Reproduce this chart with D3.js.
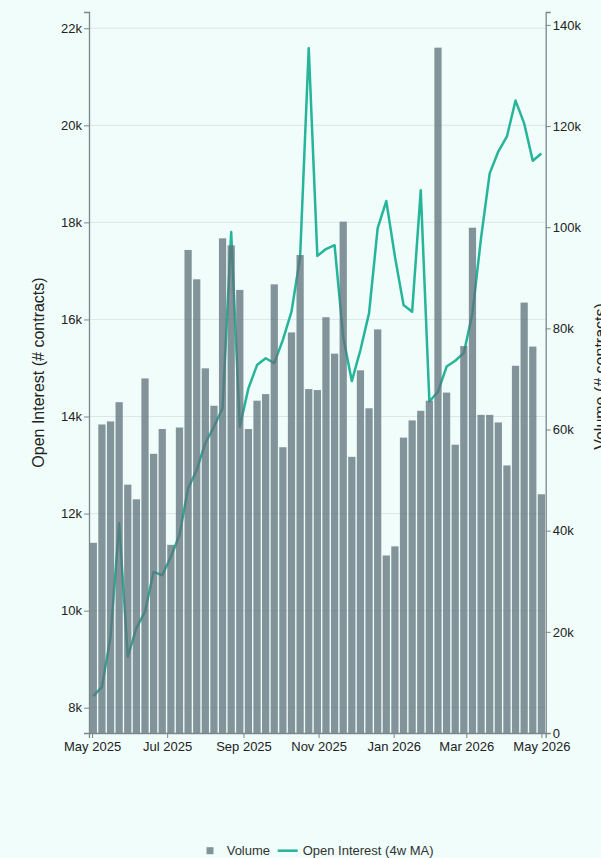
<!DOCTYPE html>
<html>
<head>
<meta charset="utf-8">
<script src="https://cdn.jsdelivr.net/npm/d3@7"></script>
<style>
  html, body { margin: 0; padding: 0; background: #f0fdfa; }
  svg { display: block; }
  text { font-family: Helvetica, "Liberation Sans", Arial, sans-serif; }
</style>
</head>
<body>
<svg id="chart"></svg>
<script>
// weekly observations (Fridays)
var weeks = [
  "2025-05-02","2025-05-09","2025-05-16","2025-05-23","2025-05-30",
  "2025-06-06","2025-06-13","2025-06-20","2025-06-27",
  "2025-07-04","2025-07-11","2025-07-18","2025-07-25",
  "2025-08-01","2025-08-08","2025-08-15","2025-08-22","2025-08-29",
  "2025-09-05","2025-09-12","2025-09-19","2025-09-26",
  "2025-10-03","2025-10-10","2025-10-17","2025-10-24","2025-10-31",
  "2025-11-07","2025-11-14","2025-11-21","2025-11-28",
  "2025-12-05","2025-12-12","2025-12-19","2025-12-26",
  "2026-01-02","2026-01-09","2026-01-16","2026-01-23","2026-01-30",
  "2026-02-06","2026-02-13","2026-02-20","2026-02-27",
  "2026-03-06","2026-03-13","2026-03-20","2026-03-27",
  "2026-04-03","2026-04-10","2026-04-17","2026-04-24",
  "2026-05-01"
];

var volume = [
  37600, 61000, 61600, 65400, 49100, 46200, 70100, 55200, 60100, 37200,
  60400, 95500, 89700, 72100, 64700, 97800, 96400, 87600, 60100, 65700,
  67000, 88700, 56500, 79200, 94500, 68000, 67800, 82200, 75000, 101100,
  54600, 71700, 64200, 79800, 35100, 36900, 58400, 61800, 63700, 65700,
  135500, 67300, 57000, 76500, 99900, 62900, 62900, 61400, 52900, 72600,
  85100, 76400, 47200
];

var openInterest = [
  8240, 8430, 9460, 11800, 9050, 9640, 9980, 10800, 10730, 11110,
  11560, 12520, 12900, 13450, 13790, 14170, 17800, 13790, 14580, 15060,
  15200, 15100, 15580, 16160, 17290, 21590, 17310, 17450, 17530, 15640,
  14730, 15370, 16130, 17880, 18440, 17300, 16300, 16160, 18660, 14310,
  14510, 15030, 15150, 15310, 16130, 17680, 19010, 19460, 19770, 20510,
  20040, 19270, 19420
];

var oiTicks = [8000, 10000, 12000, 14000, 16000, 18000, 20000, 22000];
var volTicks = [0, 20000, 40000, 60000, 80000, 100000, 120000, 140000];
var dateTicks = ["2025-05-01","2025-07-01","2025-09-01","2025-11-01","2026-01-01","2026-03-01","2026-05-01"];

var W = 601, H = 858;
var margin = {top: 12, right: 55.3, bottom: 125, left: 89};
var innerW = W - margin.left - margin.right,
    innerH = H - margin.top - margin.bottom;

var parse = d3.timeParse("%Y-%m-%d");
var data = weeks.map(function(w, i) {
  return {date: parse(w), vol: volume[i], oi: openInterest[i]};
});

var halfWeek = 3.5 * 24 * 3600 * 1000;
var x = d3.scaleTime()
    .domain([new Date(+data[0].date - halfWeek), new Date(+data[data.length - 1].date + halfWeek)])
    .range([0, innerW]);

var yOI = d3.scaleLinear().domain([7479, 22335]).range([innerH, 0]);
var yVol = d3.scaleLinear().domain([0, 142550]).range([innerH, 0]);

var svg = d3.select("#chart").attr("width", W).attr("height", H);
svg.append("rect").attr("width", W).attr("height", H).attr("fill", "#f0fdfa");

var g = svg.append("g").attr("transform", "translate(" + margin.left + "," + margin.top + ")");

// grid from left axis
g.append("g")
  .selectAll("line")
  .data(oiTicks)
  .enter().append("line")
  .attr("x1", 0).attr("x2", innerW)
  .attr("y1", function(d) { return yOI(d); })
  .attr("y2", function(d) { return yOI(d); })
  .attr("stroke", "#dde6e8")
  .attr("stroke-width", 1);

// open interest line (drawn under the bars)
var line = d3.line()
    .x(function(d) { return x(d.date); })
    .y(function(d) { return yOI(d.oi); });

g.append("path")
  .datum(data)
  .attr("d", line)
  .attr("fill", "none")
  .attr("stroke", "#26b49b")
  .attr("stroke-width", 2.5)
  .attr("stroke-linejoin", "round");

// volume bars
var barW = (x(data[1].date) - x(data[0].date)) * 0.84;
g.append("g")
  .selectAll("rect")
  .data(data)
  .enter().append("rect")
  .attr("x", function(d) { return x(d.date) - barW / 2; })
  .attr("y", function(d) { return yVol(d.vol); })
  .attr("width", barW)
  .attr("height", function(d) { return innerH - yVol(d.vol); })
  .attr("fill", "#5f737c")
  .attr("fill-opacity", 0.76);

// axes
var fmtK = function(d) { return d === 0 ? "0" : (d / 1000) + "k"; };

var axLeft = g.append("g")
  .call(d3.axisLeft(yOI).tickValues(oiTicks).tickFormat(fmtK).tickSize(5).tickPadding(2));
var axRight = g.append("g")
  .attr("transform", "translate(" + innerW + ",0)")
  .call(d3.axisRight(yVol).tickValues(volTicks).tickFormat(fmtK).tickSize(5).tickPadding(2));
var axBottom = g.append("g")
  .attr("transform", "translate(0," + innerH + ")")
  .call(d3.axisBottom(x).tickValues(dateTicks.map(parse)).tickFormat(d3.timeFormat("%b %Y")).tickSize(5).tickPadding(4));

[axLeft, axRight, axBottom].forEach(function(ax) {
  ax.select(".domain").attr("stroke", "#7d868a").attr("stroke-width", 1.3);
  ax.selectAll(".tick line").attr("stroke", "#7d868a");
  ax.selectAll(".tick text")
    .attr("font-size", 13)
    .attr("fill", "#222")
    .style("font-family", "Helvetica, 'Liberation Sans', Arial, sans-serif");
});

// axis titles
svg.append("text")
  .attr("transform", "translate(43.5," + (margin.top + innerH / 2) + ") rotate(-90)")
  .attr("text-anchor", "middle")
  .attr("font-size", 16)
  .attr("fill", "#222")
  .text("Open Interest (# contracts)");

svg.append("text")
  .attr("transform", "translate(606," + (margin.top + innerH / 2 + 4) + ") rotate(-90)")
  .attr("text-anchor", "middle")
  .attr("font-size", 16)
  .attr("fill", "#222")
  .text("Volume (# contracts)");

// legend
var leg = svg.append("g").attr("transform", "translate(0,850.7)");
leg.append("rect")
  .attr("x", 206.5).attr("y", -3.5).attr("width", 7).attr("height", 7)
  .attr("fill", "#5f737c").attr("fill-opacity", 0.76);
leg.append("text")
  .attr("x", 226.7).attr("dy", "0.35em")
  .attr("font-size", 13).attr("fill", "#333")
  .text("Volume");
leg.append("line")
  .attr("x1", 277.7).attr("x2", 297.7)
  .attr("stroke", "#26b49b").attr("stroke-width", 2.5);
leg.append("text")
  .attr("x", 302.7).attr("dy", "0.35em")
  .attr("font-size", 13).attr("fill", "#333")
  .text("Open Interest (4w MA)");
</script>
</body>
</html>
